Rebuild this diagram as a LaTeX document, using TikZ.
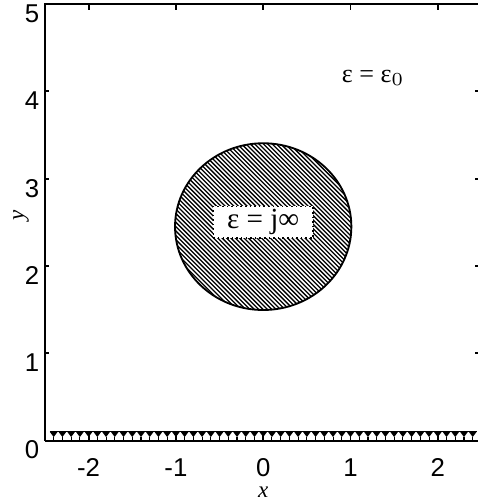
\documentclass[tikz,border=0pt]{standalone}
\usepackage{fontspec}
\setmainfont{Liberation Sans}
\newfontfamily\serifr{Liberation Serif}
\begin{document}
\begin{tikzpicture}[x=1cm,y=1cm,
  axisline/.style={line width=0.65pt},
  tickmark/.style={line width=0.6pt},
  ticklab/.style={font=\fontsize{8.4}{10}\selectfont, inner sep=0pt},
  hatchline/.style={line width=0.42pt},
  marker/.style={line width=0.35pt}]
\useasboundingbox (-3.015,-0.67) rectangle (2.46,5.046);
% hatched disk
\begin{scope}
\clip (0,2.45) ellipse [x radius=1.01, y radius=0.955];
\foreach \i in {-2.4,-2.35,...,2.45}
  \draw[hatchline] ({\i-1.2},3.65) -- ({\i+1.2},1.25);
\end{scope}
\draw[line width=0.6pt] (0,2.45) ellipse [x radius=1.01, y radius=0.955];
\node[draw, densely dotted, fill=white, line width=0.5pt, minimum width=32.5pt,
  minimum height=9pt, inner sep=1pt, font=\serifr\fontsize{9.5}{10}\selectfont] (inner) at (0,2.5) {ε = j∞};
\node[font=\serifr\fontsize{8.5}{10}\selectfont, inner sep=0pt] (outer) at (1.26,4.155) {ε = ε$_0$};
% axes
\draw[axisline] (-2.5,0) -- (-2.5,5) -- (2.5,5);
\draw[axisline] (-2.5,0) -- (2.5,0);
\draw[axisline] (2.5,0) -- (2.5,5);
\foreach \y in {1,2,3,4} {
  \draw[tickmark] (-2.5,\y) -- (-2.45,\y);
  \draw[tickmark] (2.5,\y) -- (2.43,\y);
}
\foreach \x in {-2,-1,0,1,2} {
  \draw[tickmark] (\x,5) -- (\x,4.93);
  \draw[tickmark] (\x,0) -- (\x,0.07);
}
% markers along the bottom
\draw[marker] (-2.445,0.1) -- (2.445,0.1);
\foreach \m in {-24,...,24} {
  \fill ({\m/10-0.045},0.1) -- ({\m/10+0.045},0.1) -- ({\m/10},0.04) -- cycle;
  \draw[marker] ({\m/10},0.04) -- ({\m/10},0);
}
% tick labels
\foreach \y in {0,1,2,3,4,5}
  \node[ticklab, anchor=east] (yl\y) at (-2.56,{\y-0.11}) {\y};
\foreach \x/\t in {-2/-2,-1/-1,0/0,1/1,2/2}
  \node[ticklab, text height=1.6ex, text depth=0pt] (xl\t) at (\x,-0.265) {\t};
\node[font=\serifr\itshape\fontsize{7.5}{9}\selectfont, inner sep=0pt,
  text height=1ex, text depth=0pt] (xlab) at (0,-0.56) {x};
\node[font=\serifr\itshape\fontsize{7.5}{9}\selectfont, inner sep=0pt, rotate=90] (ylab) at (-2.774,2.58) {y};
\end{tikzpicture}
\end{document}
